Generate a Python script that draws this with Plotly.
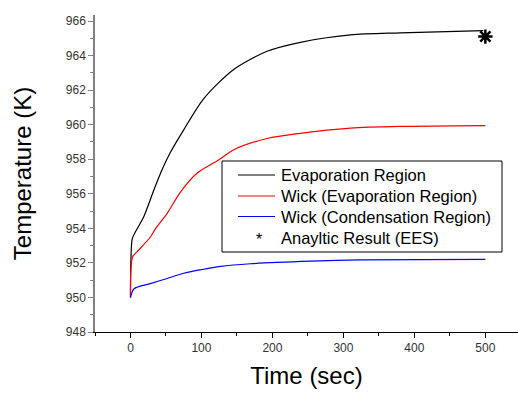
import plotly.graph_objects as go

# Evaporation region (black)
t_evap = [0, 0.5, 2.5, 7, 18.7, 32.8, 44.6, 56.3, 75, 103, 145.5, 192.5, 239.4, 310, 380, 497]
T_evap = [950.0, 952.0, 953.4, 953.8, 954.67, 956.2, 957.4, 958.4, 959.7, 961.5, 963.2, 964.25, 964.77, 965.2, 965.32, 965.44]

# Wick, evaporation region (red)
t_wick_e = [0, 0.5, 3, 9.4, 28, 35.6, 51.7, 70.4, 94, 124, 145.5, 192.5, 239, 310, 380, 500]
T_wick_e = [950.0, 951.5, 952.36, 952.65, 953.5, 954.0, 954.87, 956.1, 957.2, 957.95, 958.55, 959.2, 959.5, 959.8, 959.9, 959.95]

# Wick, condensation region (blue)
t_wick_c = [0, 5, 28, 51.7, 75, 98.6, 127, 169, 254, 324, 500]
T_wick_c = [950.0, 950.5, 950.8, 951.1, 951.4, 951.6, 951.8, 951.95, 952.1, 952.17, 952.2]

# Analytic result (EES)
t_ees = [500]
T_ees = [965.1]

x_ticks = [0, 100, 200, 300, 400, 500]
y_ticks = [948, 950, 952, 954, 956, 958, 960, 962, 964, 966]

legend_names = ["Evaporation Region", "Wick (Evaporation Region)",
                "Wick (Condensation Region)", "Anayltic Result (EES)"]
legend_colors = ["black", "red", "blue", None]

fig = go.Figure()
fig.add_trace(go.Scatter(x=t_evap, y=T_evap, mode="lines", name=legend_names[0], showlegend=False,
                         line=dict(color="black", width=1.2, shape="spline", smoothing=0.8)))
fig.add_trace(go.Scatter(x=t_wick_e, y=T_wick_e, mode="lines", name=legend_names[1], showlegend=False,
                         line=dict(color="red", width=1.2, shape="spline", smoothing=0.8)))
fig.add_trace(go.Scatter(x=t_wick_c, y=T_wick_c, mode="lines", name=legend_names[2], showlegend=False,
                         line=dict(color="blue", width=1.2, shape="spline", smoothing=0.8)))
fig.add_trace(go.Scatter(x=t_ees, y=T_ees, mode="markers", name=legend_names[3], showlegend=False,
                         marker=dict(symbol="asterisk-open", size=12, color="black",
                                     line=dict(color="black", width=2.5))))

font = "Liberation Sans, Arial, sans-serif"

# --- manual legend (pixel layout converted to paper coords) ---
L, T, W, H = 95, 15, 423, 317
def px(x):
    return (x - L) / W
def py(y):
    return (T + H - y) / H

shapes = [dict(type="rect", xref="paper", yref="paper",
               x0=px(222), x1=px(502), y0=py(252), y1=py(161),
               line=dict(color="black", width=1), fillcolor="white", layer="above")]
annotations = []
row_y = [175, 196, 216.5, 237.5]
for name, color, ry in zip(legend_names, legend_colors, row_y):
    if color is not None:
        shapes.append(dict(type="line", xref="paper", yref="paper",
                           x0=px(238), x1=px(275), y0=py(ry), y1=py(ry),
                           line=dict(color=color, width=1.2), layer="above"))
    else:
        annotations.append(dict(text="*", xref="paper", yref="paper",
                                x=px(259), y=py(ry + 2), xanchor="center", yanchor="middle",
                                showarrow=False, font=dict(family=font, size=16, color="black")))
    annotations.append(dict(text=name, xref="paper", yref="paper",
                            x=px(279), y=py(ry), xanchor="left", yanchor="middle",
                            showarrow=False, font=dict(family=font, size=16.5, color="black")))

fig.update_layout(
    width=518, height=394,
    margin=dict(l=95, r=0, t=15, b=62),
    paper_bgcolor="white", plot_bgcolor="white",
    font=dict(family=font, color="black"),
    showlegend=False,
    shapes=shapes,
    annotations=annotations,
    xaxis=dict(range=[-50, 546], tickvals=x_ticks, ticks="outside", ticklen=5,
               tickcolor="black", showline=True, linecolor="black", linewidth=1,
               showgrid=False, zeroline=False, automargin=False,
               minor=dict(ticks="outside", ticklen=3, dtick=50, tick0=0, tickcolor="black"),
               tickfont=dict(size=12, color="#333333"),
               title=dict(text="Time (sec)", font=dict(size=24, color="black"), standoff=12)),
    yaxis=dict(range=[948, 966.35], tickvals=y_ticks, ticks="outside", ticklen=5,
               tickcolor="#808080", showline=True, linecolor="#808080", linewidth=1.5,
               showgrid=False, zeroline=False, automargin=False,
               minor=dict(ticks="outside", ticklen=3, dtick=1, tick0=948, tickcolor="#808080"),
               tickfont=dict(size=12, color="#333333"),
               title=dict(text="Temperature (K)", font=dict(size=24, color="black"), standoff=27)),
)

fig.write_html("out.html", config={"displayModeBar": False},
               post_script="document.body.style.margin='0';")
